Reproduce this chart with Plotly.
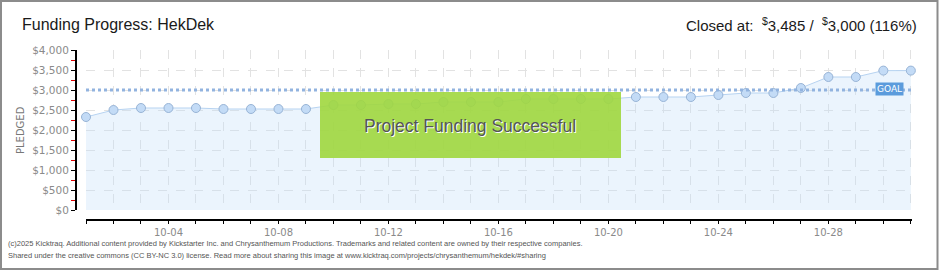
import plotly.graph_objects as go
import pandas as pd

# ---- data ----
dates = pd.date_range("2025-10-01", "2025-10-31", freq="D").strftime("%Y-%m-%d").tolist()
pledged = [2325, 2500, 2550, 2550, 2550, 2525, 2525, 2525, 2525, 2625,
           2625, 2650, 2650, 2700, 2700, 2700, 2775, 2775, 2775, 2775,
           2825, 2825, 2825, 2875, 2925, 2925, 3050, 3325, 3325, 3485, 3485]
goal = 3000
project = "HekDek"
closed_at = 3485
y_ticks = [0, 500, 1000, 1500, 2000, 2500, 3000, 3500, 4000]
y_tick_text = [f"${v:,}" for v in y_ticks]
footer_lines = [
    "(c)2025 Kicktraq. Additional content provided by Kickstarter Inc. and Chrysanthemum Productions. "
    "Trademarks and related content are owned by their respective companies.",
    "Shared under the creative commons (CC BY-NC 3.0) license. Read more about sharing this image at "
    "www.kicktraq.com/projects/chrysanthemum/hekdek/#sharing",
]

# ---- layout geometry (pixels) ----
W, H = 940, 270
L, R, T, B = 76, 912, 50, 220
PW, PH = R - L, B - T


def xp(px):
    return (px - L) / PW


def yp(py):
    return (B - py) / PH


SANS = "Liberation Sans, Arial, sans-serif"
DJV = "DejaVu Sans, sans-serif"

fig = go.Figure()
fig.add_trace(go.Scatter(
    x=dates, y=pledged, mode="lines+markers",
    line=dict(color="#b7d3f1", width=1),
    fill="tozeroy", fillcolor="rgba(190,218,248,0.30)",
    marker=dict(size=9, color="#c3dbf6", line=dict(color="#98b4d6", width=1)),
    cliponaxis=False, hoverinfo="skip", showlegend=False,
))

fig.update_layout(
    width=W, height=H,
    margin=dict(l=L, r=W - R, t=T, b=H - B),
    paper_bgcolor="white", plot_bgcolor="white",
    showlegend=False,
    xaxis=dict(
        domain=[xp(86), 1],
        range=["2025-10-01", "2025-10-31 01:00"],
        anchor="free", position=0,
        type="date",
        tick0="2025-10-04", dtick=4 * 86400000,
        tickformat="%m-%d",
        showline=True, linecolor="#000", linewidth=2,
        ticks="outside", ticklen=3, tickcolor="#000", tickwidth=1,
        tickfont=dict(family=DJV, size=10, color="#8a8a8a"),
        showgrid=True, gridcolor="#e2e2e2", griddash="dash", gridwidth=1,
        minor=dict(dtick=86400000, tick0="2025-10-01", ticks="outside", ticklen=3,
                   tickcolor="#000", showgrid=True, gridcolor="#e2e2e2", griddash="dash"),
        zeroline=False,
    ),
    yaxis=dict(
        domain=[yp(210), 1],
        range=[0, 4000],
        anchor="free", position=0,
        tickmode="array", tickvals=y_ticks, ticktext=y_tick_text,
        showline=True, linecolor="#000", linewidth=2,
        ticks="outside", ticklen=4, tickcolor="#000", tickwidth=1,
        tickfont=dict(family=DJV, size=10.5, color="#8a8a8a"),
        showgrid=True, gridcolor="#e2e2e2", griddash="dash", gridwidth=1,
        minor=dict(dtick=250, ticks="outside", ticklen=4, tickcolor="#e00000", showgrid=False),
        zeroline=False,
    ),
)

shapes = []
# goal line
shapes.append(dict(type="line", xref="paper", yref="y", x0=xp(86), x1=1, y0=goal, y1=goal,
                   line=dict(color="#92b3df", width=3, dash="dot"), layer="above"))
# success box
shapes.append(dict(type="rect", xref="paper", yref="paper",
                   x0=xp(320), x1=xp(621), y0=yp(158), y1=yp(92),
                   fillcolor="rgba(160,215,62,0.9)", line=dict(width=0), layer="above"))
# frame
shapes.append(dict(type="rect", xref="paper", yref="paper",
                   x0=xp(1), x1=xp(937.5), y0=yp(269), y1=yp(1),
                   line=dict(color="#8c8c8c", width=2), fillcolor="rgba(0,0,0,0)", layer="above"))
fig.update_layout(shapes=shapes)

ann = []
ann.append(dict(xref="paper", yref="paper", x=xp(20), y=yp(24), xanchor="left", yanchor="middle",
                text=f"Funding Progress: {project}", showarrow=False,
                font=dict(family=SANS, size=16, color="#1a1a1a")))
ann.append(dict(xref="paper", yref="paper", x=xp(919), y=yp(24), xanchor="right", yanchor="middle",
                text=f"Closed at:  <sup>$</sup>{closed_at:,} /  <sup>$</sup>{goal:,} ({round(closed_at / goal * 100)}%)",
                showarrow=False, font=dict(family=SANS, size=15, color="#1a1a1a")))
ann.append(dict(xref="paper", yref="paper", x=xp(20), y=yp(130), xanchor="center", yanchor="middle",
                text="PLEDGED", textangle=-90, showarrow=False,
                font=dict(family=DJV, size=10, color="#777")))
ann.append(dict(xref="paper", yref="paper", x=xp(904), y=yp(89), xanchor="right", yanchor="middle",
                text="GOAL", showarrow=False, bgcolor="#5b9bdc", borderpad=1,
                font=dict(family=DJV, size=9, color="white")))
ann.append(dict(xref="paper", yref="paper", x=xp(470), y=yp(126), xanchor="center", yanchor="middle",
                text="Project Funding Successful", showarrow=False,
                font=dict(family=SANS, size=17.5, color="#555", shadow="1px 1px 0px #ffffff")))
for i, line in enumerate(footer_lines):
    ann.append(dict(xref="paper", yref="paper", x=xp(6), y=yp(243 + 13 * i), xanchor="left",
                    yanchor="middle", align="left", showarrow=False, text=line,
                    font=dict(family=SANS, size=7.5, color="#555")))
fig.update_layout(annotations=ann)

fig.write_html("out.html")
